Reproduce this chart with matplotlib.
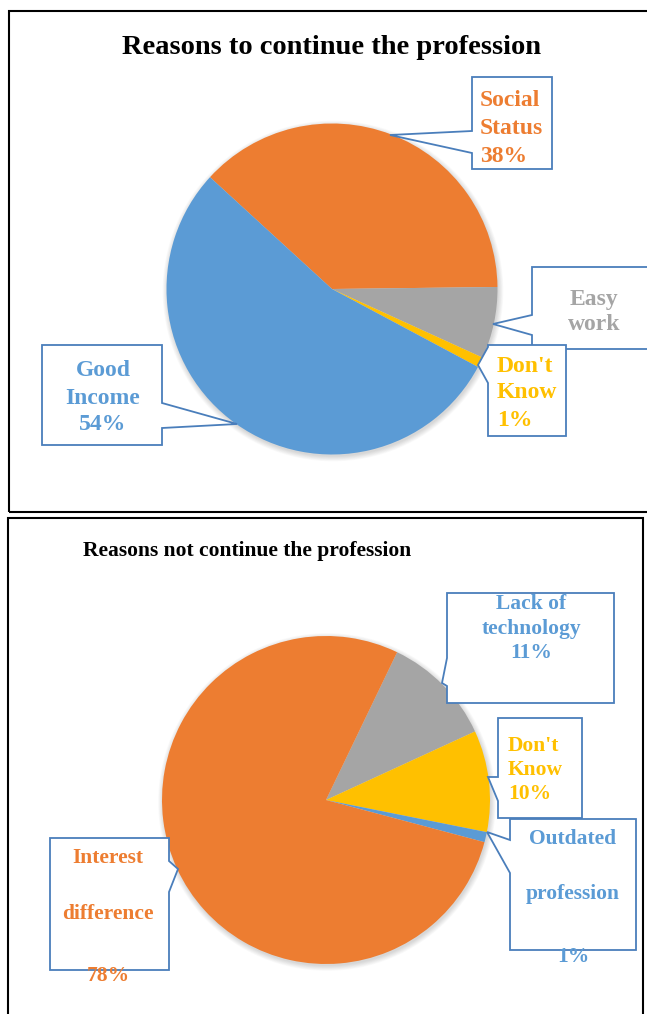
import matplotlib
matplotlib.use("Agg")
import matplotlib.pyplot as plt
from matplotlib.patches import Polygon, Rectangle, Circle

plt.rcParams['font.family'] = ['Liberation Serif', 'DejaVu Serif']

# Reasons to continue the profession (clockwise from the top-left)
cont_names = [["Social", "Status"], ["Easy", "work"], ["Don't", "Know"], ["Good", "Income"]]
cont_values = [38, 7, 1, 54]
cont_show_pct = [True, False, True, True]
cont_colors = ['#ED7D31', '#A5A5A5', '#FFC000', '#5B9BD5']
cont_text_colors = ['#ED7D31', '#A5A5A5', '#FFC000', '#5B9BD5']

# Reasons not to continue the profession
stop_names = [["Lack of", "technology"], ["Don't", "Know"], ["Outdated", "profession"], ["Interest", "difference"]]
stop_values = [11, 10, 1, 78]
stop_colors = ['#A5A5A5', '#FFC000', '#5B9BD5', '#ED7D31']
stop_text_colors = ['#5B9BD5', '#FFC000', '#5B9BD5', '#ED7D31']

W, H = 647, 1014
BOX_EDGE = '#4A7EBB'

fig = plt.figure(figsize=(W / 100, H / 100), dpi=100)
ax = fig.add_axes([0, 0, 1, 1])


def Y(y):
    return H - y


def draw_pie(values, colors, center, radius, start):
    cx, cy = center[0], Y(center[1])
    # soft drop shadow
    for i in range(8):
        ax.add_patch(Circle((cx + 1.0, cy - 2.0), radius + 0.7 * i, color='black',
                            alpha=0.018, lw=0, zorder=1))
    ax.pie(values, colors=colors, startangle=start, counterclock=False,
           center=(cx, cy), radius=radius, wedgeprops=dict(linewidth=0, zorder=2))


def callout(box, side, base1, tip, base2):
    l, t, r, b = box
    if side == 'left':
        pts = [(l, t), (r, t), (r, b), (l, b), (l, base2), tip, (l, base1)]
    else:
        pts = [(l, t), (r, t), (r, base1), tip, (r, base2), (r, b), (l, b)]
    pts = [(x, Y(y)) for x, y in pts]
    ax.add_patch(Polygon(pts, closed=True, facecolor='white', edgecolor=BOX_EDGE,
                         lw=1.3, zorder=5, joinstyle='miter'))


def label(lines, x, ys, color, size, ha='center'):
    for s, y in zip(lines, ys):
        ax.text(x, Y(y), s, color=color, fontsize=size, fontweight='bold',
                ha=ha, va='center', zorder=6)


# panel frames
ax.add_patch(Rectangle((9, Y(512)), 660, 501, fill=False, ec='black', lw=1.5, zorder=7))
ax.add_patch(Rectangle((8, Y(1030)), 635, 512, fill=False, ec='black', lw=1.5, zorder=7))

# ---- top chart ----
ax.text(332, Y(48), "Reasons to continue the profession", fontsize=20.5,
        fontweight='bold', ha='center', va='center')
draw_pie(cont_values, cont_colors, (332, 289), 165.5, 137.5)

c_labels = [names + ([f"{v}%"] if show else [])
            for names, v, show in zip(cont_names, cont_values, cont_show_pct)]

callout((472, 77, 552, 169), 'left', 131, (390, 135), 153)
label(c_labels[0], 480, [100, 128, 156], cont_text_colors[0], 17, ha='left')

callout((532, 267, 665, 349), 'left', 315, (493, 324), 335)
label(c_labels[1], 594, [299, 325], cont_text_colors[1], 17)

callout((488, 345, 566, 436), 'left', 347, (478, 365), 383)
label(c_labels[2], 497, [366, 393, 420], cont_text_colors[2], 17, ha='left')

callout((42, 345, 162, 445), 'right', 403, (237, 424), 428)
label(c_labels[3], 103, [371, 398, 425], cont_text_colors[3], 17)

# ---- bottom chart ----
ax.text(83, Y(551), "Reasons not continue the profession", fontsize=15.5,
        fontweight='bold', ha='left', va='center')
draw_pie(stop_values, stop_colors, (326, 800), 164, 64.3)

s_labels = [names + [f"{v}%"] for names, v in zip(stop_names, stop_values)]

callout((447, 593, 614, 703), 'left', 658, (442, 683), 686)
label(s_labels[0], 531, [604, 629, 653], stop_text_colors[0], 15.5)

callout((510, 819, 636, 950), 'left', 840, (487, 832), 873)
label(s_labels[2], 573, [839, 894, 957], stop_text_colors[2], 15.5)

callout((498, 718, 582, 818), 'left', 777, (488, 777), 801)
label(s_labels[1], 508, [746, 770, 794], stop_text_colors[1], 15.5, ha='left')

callout((50, 838, 169, 970), 'right', 861, (178, 869), 892)
label(s_labels[3], 108, [858, 914, 976], stop_text_colors[3], 15.5)

ax.set_xlim(0, W)
ax.set_ylim(0, H)
ax.set_aspect('auto')
ax.axis('off')

fig.savefig("out.png", dpi=100, facecolor='white')
